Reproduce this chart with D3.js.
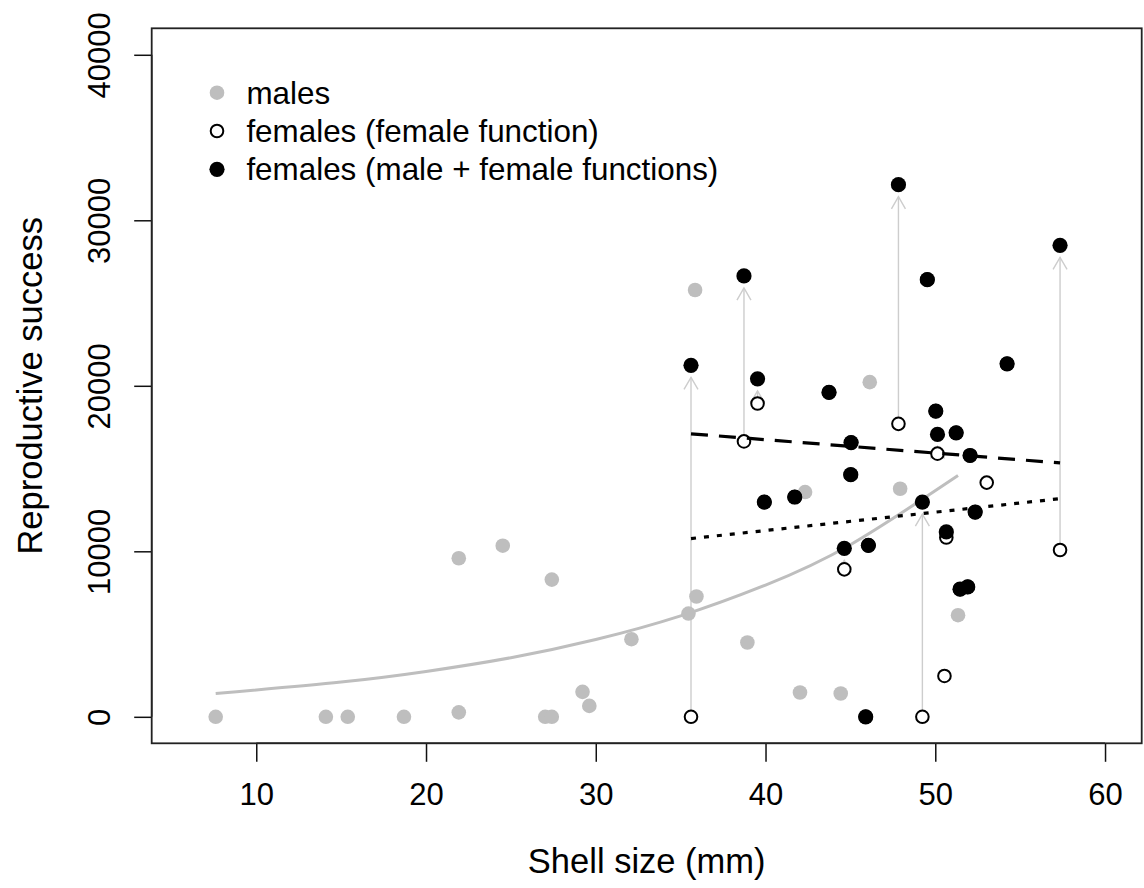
<!DOCTYPE html>
<html>
<head>
<meta charset="utf-8">
<script src="https://cdn.jsdelivr.net/npm/d3@7/dist/d3.min.js"></script>
<style>
  html, body { margin: 0; padding: 0; background: #fff; }
  svg { display: block; font-family: "Liberation Sans", Arial, Helvetica, sans-serif; }
</style>
</head>
<body>
<svg id="chart" width="1144" height="888"></svg>
<script>
// Males: shell size (mm) and reproductive success
const maleSize = [7.61, 14.10, 15.39, 18.70, 21.93, 21.93, 24.52, 27.41, 27.02, 27.41, 29.22, 29.62,
                  32.10, 35.46, 35.93, 35.85, 38.93, 42.33, 42.03, 44.43, 46.14, 47.93, 51.34];
const maleRS = [0, 0, 0, 0, 270, 9580, 10340, 8290, 0, 0, 1510, 660,
                4690, 6240, 7270, 25790, 4490, 13580, 1470, 1410, 20220, 13780, 6140];

// Females: shell size, success through female function, and through male + female functions
const femaleSize = [35.61, 38.73, 39.53, 47.83, 50.13, 53.03, 50.65, 44.64, 57.35, 50.54, 49.24,
                    49.53, 43.74, 54.23, 50.03, 51.23, 45.04, 52.05, 45.02, 39.93, 41.72, 52.35,
                    46.06, 51.46, 51.91, 45.90];
const femaleFnRS = [0, 16640, 18930, 17700, 15900, 14150, 10830, 8910, 10080, 2470, 0,
                    26415, 19600, 21330, 18470, 17160, 16570, 15790, 14630, 12975, 13280, 12370,
                    10360, 7710, 7850, 0];
const totalRS = [21240, 26640, 20420, 32150, 17060, null, 11170, 10180, 28490, null, 12975,
                 26415, 19600, 21330, 18470, 17160, 16570, 15790, 14630, 12975, 13280, 12370,
                 10360, 7710, 7850, 0];

// Fitted curves
const maleFitSize = [7.61, 15, 20, 25, 30, 35, 40, 45, 51.34];
const maleFitRS = [1410, 2100, 2740, 3570, 4670, 6100, 7960, 10400, 14580];
const fitSize = [35.61, 57.35];
const fitTotalRS = [17100, 15340];     // dashed: male + female functions
const fitFemaleFnRS = [10770, 13180];  // dotted: female function

// Axes
const xTicks = [10, 20, 30, 40, 50, 60];
const yTicks = [0, 10000, 20000, 30000, 40000];
const xLabel = "Shell size (mm)";
const yLabel = "Reproductive success";
const legendLabels = ["males", "females (female function)", "females (male + female functions)"];

const svg = d3.select("#chart");
const box = { left: 151.7, right: 1141.7, top: 28.3, bottom: 743.3 };

const x = d3.scaleLinear().domain([3.84, 62.16]).range([box.left, box.right]);
const y = d3.scaleLinear().domain([-1600, 41600]).range([box.bottom, box.top]);

const GRAY = "#bebebe";
const ARROW = "#cdcdcd";
const R = 7.3;

// x axis
const xAxis = svg.append("g")
  .attr("transform", `translate(0,${box.bottom})`)
  .call(d3.axisBottom(x).tickValues(xTicks).tickSize(18.5).tickPadding(22).tickFormat(d3.format("d")));
xAxis.select(".domain").attr("stroke", "#111").attr("stroke-width", 1.5)
  .attr("d", `M${x(xTicks[0])},0H${x(xTicks[xTicks.length - 1])}`);
xAxis.selectAll(".tick line").attr("stroke", "#111").attr("stroke-width", 1.5);
xAxis.selectAll(".tick text").attr("font-size", 31).attr("fill", "#000")
  .attr("dy", 0).attr("y", 61.5);

// y axis
const yAxis = svg.append("g")
  .attr("transform", `translate(${box.left},0)`)
  .call(d3.axisLeft(y).tickValues(yTicks).tickSize(17.5).tickFormat(d3.format("d")));
yAxis.select(".domain").attr("stroke", "#111").attr("stroke-width", 1.5)
  .attr("d", `M0,${y(yTicks[0])}V${y(yTicks[yTicks.length - 1])}`);
yAxis.selectAll(".tick line").attr("stroke", "#111").attr("stroke-width", 1.5);
yAxis.selectAll(".tick text")
  .attr("font-size", 31).attr("fill", "#000")
  .attr("x", null).attr("dy", null)
  .attr("text-anchor", "middle")
  .attr("transform", `translate(${110 - box.left},0) rotate(-90)`);

// axis titles
svg.append("text")
  .attr("x", (box.left + box.right) / 2).attr("y", 873)
  .attr("text-anchor", "middle").attr("font-size", 34.5).text(xLabel);
svg.append("text")
  .attr("transform", `translate(41.7,${(box.top + box.bottom) / 2}) rotate(-90)`)
  .attr("text-anchor", "middle").attr("font-size", 34.5).text(yLabel);

const plot = svg.append("g");

// male fitted curve
plot.append("path")
  .datum(maleFitSize.map((s, i) => [s, maleFitRS[i]]))
  .attr("fill", "none").attr("stroke", GRAY).attr("stroke-width", 3)
  .attr("d", d3.line().x(d => x(d[0])).y(d => y(d[1])).curve(d3.curveNatural));

// arrows from female-function success to total success
const tipGap = 12, headLen = 14, headAng = Math.PI / 6;
femaleSize.forEach((s, i) => {
  const t = totalRS[i];
  if (t === null) return;
  const x0 = x(s), y0 = y(femaleFnRS[i]), y1 = y(t) + tipGap;
  if (y1 >= y0 - 1) return;
  const g = plot.append("g").attr("stroke", ARROW).attr("stroke-width", 1.4).attr("fill", "none");
  g.append("line").attr("x1", x0).attr("x2", x0).attr("y1", y0).attr("y2", y1);
  g.append("path").attr("d",
    `M${x0 - headLen * Math.sin(headAng)},${y1 + headLen * Math.cos(headAng)}L${x0},${y1}` +
    `L${x0 + headLen * Math.sin(headAng)},${y1 + headLen * Math.cos(headAng)}`);
});

// males
plot.selectAll("circle.male")
  .data(maleSize.map((s, i) => [s, maleRS[i]]))
  .join("circle").attr("class", "male")
  .attr("cx", d => x(d[0])).attr("cy", d => y(d[1])).attr("r", R).attr("fill", GRAY);

// females, female function (open)
plot.selectAll("circle.ff")
  .data(femaleSize.map((s, i) => [s, femaleFnRS[i]]))
  .join("circle").attr("class", "ff")
  .attr("cx", d => x(d[0])).attr("cy", d => y(d[1])).attr("r", R - 1)
  .attr("fill", "#fff").attr("stroke", "#000").attr("stroke-width", 2);

// females, male + female functions (filled)
plot.selectAll("circle.tot")
  .data(femaleSize.map((s, i) => [s, totalRS[i]]).filter(d => d[1] !== null))
  .join("circle").attr("class", "tot")
  .attr("cx", d => x(d[0])).attr("cy", d => y(d[1])).attr("r", R + 0.3).attr("fill", "#000");

// regression lines for females
const lin = d3.line().x(d => x(d[0])).y(d => y(d[1]));
plot.append("path")
  .datum(fitSize.map((s, i) => [s, fitTotalRS[i]]))
  .attr("fill", "none").attr("stroke", "#000").attr("stroke-width", 3.2)
  .attr("stroke-dasharray", "17,11").attr("d", lin);
plot.append("path")
  .datum(fitSize.map((s, i) => [s, fitFemaleFnRS[i]]))
  .attr("fill", "none").attr("stroke", "#000").attr("stroke-width", 3.2)
  .attr("stroke-dasharray", "5,8").attr("d", lin);

// plot frame
svg.append("rect")
  .attr("x", box.left).attr("y", box.top)
  .attr("width", box.right - box.left).attr("height", box.bottom - box.top)
  .attr("fill", "none").attr("stroke", "#222").attr("stroke-width", 1.8);

// legend
const legY = [92.7, 131, 169.3];
const leg = svg.append("g");
leg.append("circle").attr("cx", 217).attr("cy", legY[0]).attr("r", R).attr("fill", GRAY);
leg.append("circle").attr("cx", 217).attr("cy", legY[1]).attr("r", R - 1)
  .attr("fill", "#fff").attr("stroke", "#000").attr("stroke-width", 2);
leg.append("circle").attr("cx", 217).attr("cy", legY[2]).attr("r", R + 0.3).attr("fill", "#000");
legendLabels.forEach((t, i) => {
  leg.append("text").attr("x", 246.4).attr("y", legY[i] + 10.8)
    .attr("font-size", 31.4).text(t);
});
</script>
</body>
</html>
